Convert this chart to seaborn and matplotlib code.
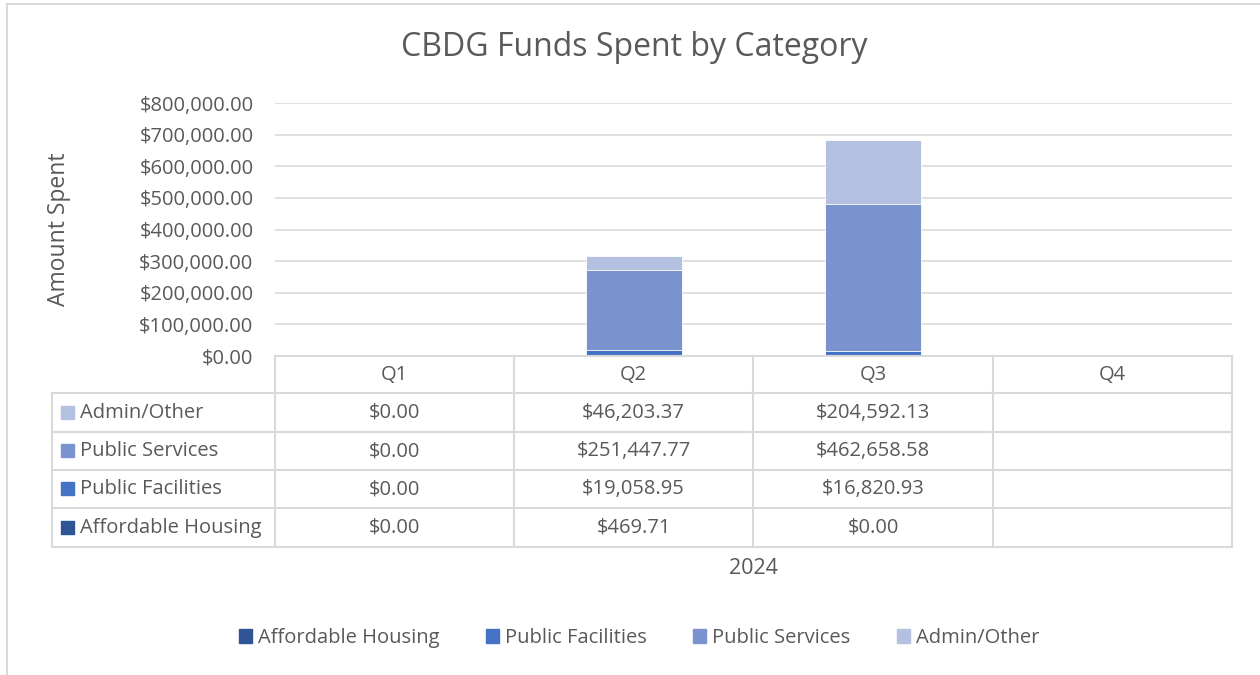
import matplotlib
matplotlib.use("Agg")
import matplotlib.pyplot as plt
from matplotlib.lines import Line2D
from matplotlib.patches import Rectangle
import numpy as np
import pandas as pd
import seaborn as sns

quarters = ["Q1", "Q2", "Q3", "Q4"]
year_label = "2024"
categories = ["Affordable Housing", "Public Facilities", "Public Services", "Admin/Other"]
affordable_housing = [0.00, 469.71, 0.00, np.nan]
public_facilities = [0.00, 19058.95, 16820.93, np.nan]
public_services = [0.00, 251447.77, 462658.58, np.nan]
admin_other = [0.00, 46203.37, 204592.13, np.nan]
y_ticks = [0, 100000, 200000, 300000, 400000, 500000, 600000, 700000, 800000]

COLORS = ["#2F5597", "#4472C4", "#7A93CE", "#B4C0E0"]
TEXT = "#595959"
GRID = "#D9D9D9"
FS = 14.5

sns.set_theme(style="white")
plt.rcParams["font.family"] = ["Open Sans", "DejaVu Sans"]

W, H = 1260, 675
fig = plt.figure(figsize=(12.6, 6.75), dpi=100)


def fx(px):
    return px / W


def fy(py):
    return 1 - py / H


left, right, top, bottom = 275, 1232, 103, 356
ax = fig.add_axes([fx(left), fy(bottom), fx(right - left), (bottom - top) / H])

df = pd.DataFrame({
    "quarter": quarters,
    "Affordable Housing": affordable_housing,
    "Public Facilities": public_facilities,
    "Public Services": public_services,
    "Admin/Other": admin_other,
})

# stack by drawing cumulative totals from the top layer down
cum = df[categories].fillna(0).cumsum(axis=1)
for i in range(len(categories) - 1, -1, -1):
    sns.barplot(x=df["quarter"], y=cum[categories[i]], color=COLORS[i],
                width=0.4, ax=ax, saturation=1, edgecolor="white", linewidth=0.6,
                zorder=3)

ax.set_ylim(0, 800000)
ax.set_xlim(-0.5, 3.5)
ax.set_yticks(y_ticks)
ax.set_yticklabels([f"${v:,.2f}" for v in y_ticks], fontsize=FS, color=TEXT)
ax.set_xticks([])
ax.set_xlabel("")
ax.set_ylabel("")
ax.tick_params(axis="y", length=0, pad=15.5)
ax.grid(axis="y", color=GRID, linewidth=1.2, zorder=0)
for s in ax.spines.values():
    s.set_visible(False)

fig.text(fx(59), fy(229), "Amount Spent", rotation=90, ha="center", va="center",
         fontsize=16.5, color=TEXT)

# data table under the plot
col_x = [52, 275, 514, 753, 993, 1232]
row_y = [356, 393, 432, 470, 508, 547]
lc = dict(color=GRID, linewidth=1.5, transform=fig.transFigure, figure=fig)
fig.lines.append(Line2D([fx(275), fx(1232)], [fy(356), fy(356)], **lc))
for y in row_y[1:]:
    fig.lines.append(Line2D([fx(52), fx(1232)], [fy(y), fy(y)], **lc))
for x in col_x[1:]:
    fig.lines.append(Line2D([fx(x), fx(x)], [fy(356), fy(547)], **lc))
fig.lines.append(Line2D([fx(52), fx(52)], [fy(393), fy(547)], **lc))

for j, q in enumerate(quarters):
    cx = (col_x[j + 1] + col_x[j + 2]) / 2
    fig.text(fx(cx), fy(375), q, ha="center", va="center", fontsize=FS, color=TEXT)

series_rows = list(zip(categories, [affordable_housing, public_facilities,
                                    public_services, admin_other], COLORS))[::-1]
for r, (name, vals, c) in enumerate(series_rows):
    cy = (row_y[r + 1] + row_y[r + 2]) / 2
    fig.patches.append(Rectangle((fx(61), fy(cy + 6)), fx(13), 13 / H, color=c,
                                 transform=fig.transFigure, figure=fig))
    fig.text(fx(80), fy(cy), name, ha="left", va="center", fontsize=FS, color=TEXT)
    for j, v in enumerate(vals):
        if pd.isna(v):
            continue
        cx = (col_x[j + 1] + col_x[j + 2]) / 2
        fig.text(fx(cx), fy(cy), f"${v:,.2f}", ha="center", va="center",
                 fontsize=FS, color=TEXT)

fig.text(fx(753), fy(569), year_label, ha="center", va="center", fontsize=15.5, color=TEXT)
fig.text(fx(634), fy(48), "CBDG Funds Spent by Category", ha="center", va="center",
         fontsize=23, color=TEXT)

handles = [Rectangle((0, 0), 1, 1, color=c) for c in COLORS]
fig.legend(handles, categories, loc="center", bbox_to_anchor=(fx(639), fy(638)),
           ncol=4, frameon=False, fontsize=FS, labelcolor=TEXT,
           handlelength=0.65, handleheight=0.65, handletextpad=0.3, columnspacing=2.3)

# chart border (only top and left edges visible)
fig.lines.append(Line2D([fx(7), 1], [fy(4), fy(4)], **lc))
fig.lines.append(Line2D([fx(7), fx(7)], [fy(4), 0], **lc))

fig.savefig("out.png", dpi=100, facecolor="white")
